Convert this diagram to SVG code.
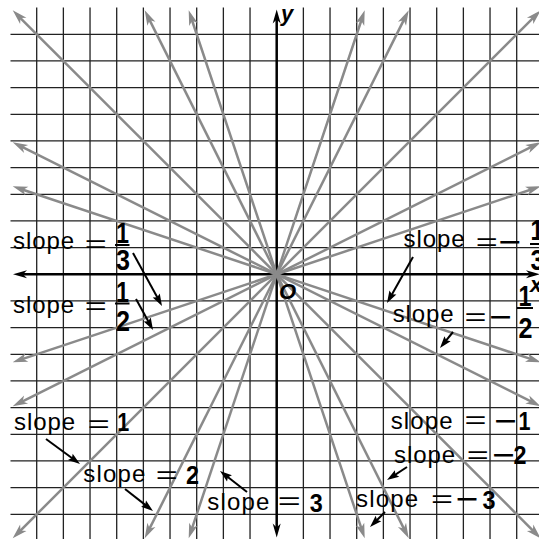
<svg xmlns="http://www.w3.org/2000/svg" width="539" height="539" viewBox="0 0 539 539">
<defs>
<style>
.grid{stroke:#222;stroke-width:1.3;fill:none}
.axis{stroke:#000;stroke-width:2.5;fill:none;marker-start:url(#axHead);marker-end:url(#axHead)}
.sl{stroke:#8a8a8a;stroke-width:2.5;fill:none;marker-start:url(#grHead);marker-end:url(#grHead)}
.ptr{stroke:#000;stroke-width:2;fill:none;marker-end:url(#ptHead)}
.s{font-family:"Liberation Sans",Arial,sans-serif;font-size:24px;fill:#000}
.eq{font-family:"Liberation Sans",Arial,sans-serif;font-size:24px;fill:#000}
.mn{font-family:"Liberation Sans",Arial,sans-serif;font-size:24px;font-weight:bold;fill:#000}
.d{font-family:"Liberation Sans",Arial,sans-serif;font-size:26px;font-weight:bold;fill:#000;text-anchor:middle}
.f{font-family:"Liberation Sans",Arial,sans-serif;font-size:29px;font-weight:bold;fill:#000;text-anchor:middle}
.bar{stroke:#000;stroke-width:2}
.v{font-family:"Liberation Sans",Arial,sans-serif;font-size:22px;font-weight:bold;font-style:italic;fill:#000}
</style>
<marker id="grHead" viewBox="-16 -5 17 10" markerWidth="17" markerHeight="10" refX="-6" refY="0" orient="auto-start-reverse" markerUnits="userSpaceOnUse">
<path d="M0,0 L-15,-4.5 L-11,0 L-15,4.5 Z" fill="#8a8a8a"/>
</marker>
<marker id="axHead" viewBox="-16 -5 17 10" markerWidth="17" markerHeight="10" refX="-6" refY="0" orient="auto-start-reverse" markerUnits="userSpaceOnUse">
<path d="M0,0 L-14,-4 L-10,0 L-14,4 Z" fill="#000"/>
</marker>
<marker id="ptHead" viewBox="-14 -5 15 10" markerWidth="15" markerHeight="10" refX="-5" refY="0" orient="auto" markerUnits="userSpaceOnUse">
<path d="M0,0 L-12,-4 L-10,0 L-12,4 Z" fill="#000"/>
</marker>
</defs>
<rect width="539" height="539" fill="#fff"/>
<g id="grid">
<path class="grid" d="M36.7,7.5V539M63.37,7.5V539M90.03,7.5V539M116.7,7.5V539M143.37,7.5V539M170.03,7.5V539M196.7,7.5V539M223.37,7.5V539M250.03,7.5V539M303.37,7.5V539M330.03,7.5V539M356.7,7.5V539M383.37,7.5V539M410.03,7.5V539M436.7,7.5V539M463.37,7.5V539M490.03,7.5V539M516.7,7.5V539"/>
<path class="grid" d="M10.5,34.3H539M10.5,60.97H539M10.5,87.63H539M10.5,114.3H539M10.5,140.97H539M10.5,167.63H539M10.5,194.3H539M10.5,220.97H539M10.5,247.63H539M10.5,300.97H539M10.5,327.63H539M10.5,354.3H539M10.5,380.97H539M10.5,407.63H539M10.5,434.3H539M10.5,460.97H539M10.5,487.63H539M10.5,514.3H539"/>
</g>
<g id="axes">
<line class="axis" x1="19" y1="274.3" x2="534" y2="274.3"/>
<line class="axis" x1="276.7" y1="15.5" x2="276.7" y2="531.5"/>
</g>
<g id="connectors">
<line id="line-m1" class="sl" x1="16.94" y1="14.54" x2="536.46" y2="534.06"/>
<line id="line-p1" class="sl" x1="16.94" y1="534.06" x2="536.46" y2="14.54"/>
<line id="line-p1-2" class="sl" x1="18.07" y1="403.62" x2="535.33" y2="144.98"/>
<line id="line-m1-2" class="sl" x1="18.07" y1="144.98" x2="535.33" y2="403.62"/>
<line id="line-p1-3" class="sl" x1="18.39" y1="360.4" x2="535.01" y2="188.2"/>
<line id="line-m1-3" class="sl" x1="18.39" y1="188.2" x2="535.01" y2="360.4"/>
<line id="line-p2" class="sl" x1="147.38" y1="532.93" x2="406.02" y2="15.67"/>
<line id="line-m2" class="sl" x1="147.38" y1="15.67" x2="406.02" y2="532.93"/>
<line id="line-p3" class="sl" x1="190.6" y1="532.61" x2="362.8" y2="15.99"/>
<line id="line-m3" class="sl" x1="190.6" y1="15.99" x2="362.8" y2="532.61"/>
<line class="ptr" x1="133" y1="253" x2="159.6" y2="301.6"/>
<line class="ptr" x1="136" y1="299" x2="150.6" y2="325.6"/>
<line class="ptr" x1="413" y1="257" x2="389.46" y2="298.65"/>
<line class="ptr" x1="453" y1="332" x2="443.15" y2="344.1"/>
<line class="ptr" x1="46" y1="439" x2="75.97" y2="461.04"/>
<line class="ptr" x1="125" y1="489" x2="149.07" y2="507.91"/>
<line class="ptr" x1="247" y1="492" x2="223.94" y2="474.07"/>
<line class="ptr" x1="407" y1="467" x2="391.2" y2="477.3"/>
<line class="ptr" x1="385" y1="512" x2="373.54" y2="523.46"/>
</g>
<g id="axis-labels">
<text class="v" x="281" y="21">y</text>
<text class="v" x="530" y="292">x</text>
<text class="v" x="279" y="298.5">O</text>
</g>
<g id="label-1-3">
<text class="s" x="13" y="249" textLength="61" lengthAdjust="spacing">slope</text>
<text class="eq" x="84.7" y="251.7" textLength="22" lengthAdjust="spacingAndGlyphs">=</text>
<text class="f" x="122.5" y="243" textLength="13" lengthAdjust="spacingAndGlyphs">1</text>
<line class="bar" x1="115" y1="245" x2="129.5" y2="245"/>
<text class="f" x="123" y="270" textLength="14" lengthAdjust="spacingAndGlyphs">3</text>
</g>
<g id="label-1-2">
<text class="s" x="13" y="313" textLength="61" lengthAdjust="spacing">slope</text>
<text class="eq" x="84.7" y="314.4" textLength="22" lengthAdjust="spacingAndGlyphs">=</text>
<text class="f" x="122.5" y="301.5" textLength="13" lengthAdjust="spacingAndGlyphs">1</text>
<line class="bar" x1="115" y1="303.5" x2="129.5" y2="303.5"/>
<text class="f" x="123" y="331" textLength="14" lengthAdjust="spacingAndGlyphs">2</text>
</g>
<g id="label-m1-3">
<text class="s" x="403.5" y="246.7" textLength="61" lengthAdjust="spacing">slope</text>
<text class="eq" x="475.7" y="250.1" textLength="22" lengthAdjust="spacingAndGlyphs">=</text>
<text class="mn" x="498.7" y="250" textLength="22" lengthAdjust="spacingAndGlyphs">−</text>
<text class="f" x="537" y="240" textLength="13" lengthAdjust="spacingAndGlyphs">1</text>
<line class="bar" x1="530" y1="244" x2="541" y2="244"/>
<text class="f" x="537.5" y="269.5" textLength="14" lengthAdjust="spacingAndGlyphs">3</text>
</g>
<g id="label-m1-2">
<text class="s" x="392.7" y="321.7" textLength="61" lengthAdjust="spacing">slope</text>
<text class="eq" x="464.4" y="325.4" textLength="22" lengthAdjust="spacingAndGlyphs">=</text>
<text class="mn" x="489.4" y="325.4" textLength="22" lengthAdjust="spacingAndGlyphs">−</text>
<text class="f" x="525" y="306" textLength="13" lengthAdjust="spacingAndGlyphs">1</text>
<line class="bar" x1="517" y1="308" x2="533" y2="308"/>
<text class="f" x="525.5" y="338" textLength="14" lengthAdjust="spacingAndGlyphs">2</text>
</g>
<g id="label-1">
<text class="s" x="14" y="430.3" textLength="61" lengthAdjust="spacing">slope</text>
<text class="eq" x="87.7" y="431.7" textLength="22" lengthAdjust="spacingAndGlyphs">=</text>
<text class="d" x="123.3" y="431" textLength="12" lengthAdjust="spacingAndGlyphs">1</text>
</g>
<g id="label-2">
<text class="s" x="83.3" y="481.7" textLength="62" lengthAdjust="spacing">slope</text>
<text class="eq" x="155.7" y="482.9" textLength="22" lengthAdjust="spacingAndGlyphs">=</text>
<text class="d" x="192.5" y="483.5" textLength="13" lengthAdjust="spacingAndGlyphs">2</text>
</g>
<g id="label-3">
<text class="s" x="207.3" y="510" textLength="62" lengthAdjust="spacing">slope</text>
<text class="eq" x="277.7" y="509.1" textLength="23" lengthAdjust="spacingAndGlyphs">=</text>
<text class="d" x="316.3" y="511.5" textLength="13" lengthAdjust="spacingAndGlyphs">3</text>
</g>
<g id="label-m1">
<text class="s" x="390.7" y="429.3" textLength="62" lengthAdjust="spacing">slope</text>
<text class="eq" x="464.4" y="428.4" textLength="22" lengthAdjust="spacingAndGlyphs">=</text>
<text class="mn" x="494.4" y="428.7" textLength="22" lengthAdjust="spacingAndGlyphs">−</text>
<text class="d" x="524.5" y="430" textLength="12" lengthAdjust="spacingAndGlyphs">1</text>
</g>
<g id="label-m2">
<text class="s" x="394" y="462.7" textLength="61" lengthAdjust="spacing">slope</text>
<text class="eq" x="466.7" y="463.4" textLength="22" lengthAdjust="spacingAndGlyphs">=</text>
<text class="mn" x="492.4" y="463.4" textLength="22" lengthAdjust="spacingAndGlyphs">−</text>
<text class="d" x="520" y="463.5" textLength="13" lengthAdjust="spacingAndGlyphs">2</text>
</g>
<g id="label-m3">
<text class="s" x="356" y="506.7" textLength="62" lengthAdjust="spacing">slope</text>
<text class="eq" x="431" y="506.7" textLength="22" lengthAdjust="spacingAndGlyphs">=</text>
<text class="mn" x="456" y="506.5" textLength="22" lengthAdjust="spacingAndGlyphs">−</text>
<text class="d" x="489" y="509" textLength="13" lengthAdjust="spacingAndGlyphs">3</text>
</g>
</svg>
